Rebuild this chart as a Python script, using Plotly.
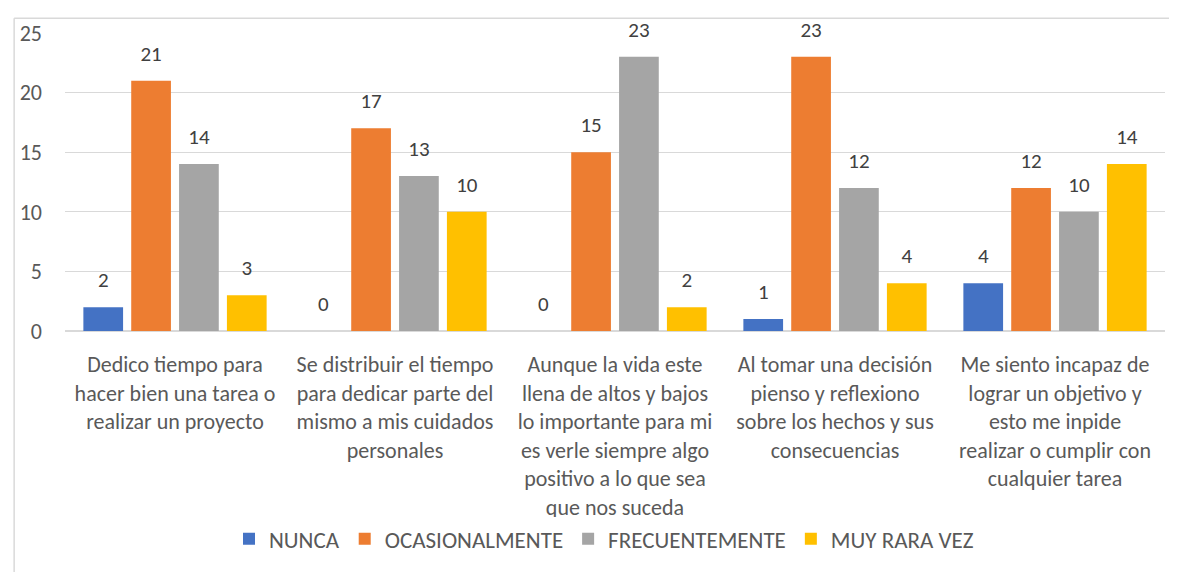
import plotly.graph_objects as go

categories = [
    "Dedico tiempo para<br>hacer bien una tarea o<br>realizar un proyecto",
    "Se distribuir el tiempo<br>para dedicar parte del<br>mismo a mis cuidados<br>personales",
    "Aunque la vida este<br>llena de altos y bajos<br>lo importante para mi<br>es verle siempre algo<br>positivo a lo que sea<br>que nos suceda",
    "Al tomar una decisión<br>pienso y reflexiono<br>sobre los hechos y sus<br>consecuencias",
    "Me siento incapaz de<br>lograr un objetivo y<br>esto me inpide<br>realizar o cumplir con<br>cualquier tarea",
]
series_names = ["NUNCA", "OCASIONALMENTE", "FRECUENTEMENTE", "MUY RARA VEZ"]
nunca = [2, 0, 0, 1, 4]
ocasionalmente = [21, 17, 15, 23, 12]
frecuentemente = [14, 13, 23, 12, 10]
muy_rara_vez = [3, 10, 2, 4, 14]
y_ticks = [0, 5, 10, 15, 20, 25]

colors = ["#4472C4", "#ED7D31", "#A5A5A5", "#FFC000"]
FONT = "Carlito, Calibri, Lato, sans-serif"

# page body has an 8px default margin; compensate so the chart lands where the reference is
W, H = 1169, 564
L, R, T, B = 54, 12, 20, 240
PW, PH = W - L - R, H - T - B

fig = go.Figure()
all_vals = [nunca, ocasionalmente, frecuentemente, muy_rara_vez]
for name, vals, col in zip(series_names, all_vals, colors):
    fig.add_trace(go.Bar(
        name=name, x=categories, y=vals,
        marker=dict(color=col, line=dict(width=0)),
        cliponaxis=False,
    ))
# value labels, grouped like the bars
for name, vals in zip(series_names, all_vals):
    fig.add_trace(go.Scatter(
        name=name, x=categories, y=vals, mode="text+markers",
        marker=dict(size=22, opacity=0),
        text=[str(v) for v in vals], textposition="top center",
        textfont=dict(family=FONT, size=21, color="#404040"),
        showlegend=False, hoverinfo="skip", cliponaxis=False,
    ))

bx = (11 - 8 - L) / PW
by = (T + PH - 5) / PH
fig.update_layout(
    width=W, height=H,
    margin=dict(l=L, r=R, t=T, b=B),
    paper_bgcolor="white", plot_bgcolor="white",
    barmode="group", bargap=0.13, bargroupgap=0.17,
    scattermode="group", scattergap=0.13,
    font=dict(family=FONT, color="#595959", size=21),
    showlegend=True,
    legend=dict(
        orientation="h", x=0.49, xanchor="center", y=-0.697, yanchor="middle",
        font=dict(family=FONT, size=23, color="#595959"),
        itemwidth=30, traceorder="normal",
    ),
    shapes=[
        dict(type="line", xref="paper", yref="paper", x0=bx, x1=1.02,
             y0=by, y1=by, line=dict(color="#D9D9D9", width=1.5)),
        dict(type="line", xref="paper", yref="paper", x0=bx, x1=bx,
             y0=by, y1=-0.85, line=dict(color="#D9D9D9", width=1.5)),
    ],
)
fig.update_yaxes(
    range=[0, 25], tickvals=y_ticks, showgrid=True, gridcolor="#D9D9D9", gridwidth=1,
    zeroline=True, zerolinecolor="#D9D9D9", zerolinewidth=1.5, showline=False,
    tickfont=dict(family=FONT, size=22, color="#595959"), ticklabelstandoff=22,
)
fig.update_xaxes(
    showgrid=False, showline=False, ticks="", tickangle=0,
    tickfont=dict(family=FONT, size=22, color="#595959"), ticklabelstandoff=18,
)
fig.write_html("out.html")
